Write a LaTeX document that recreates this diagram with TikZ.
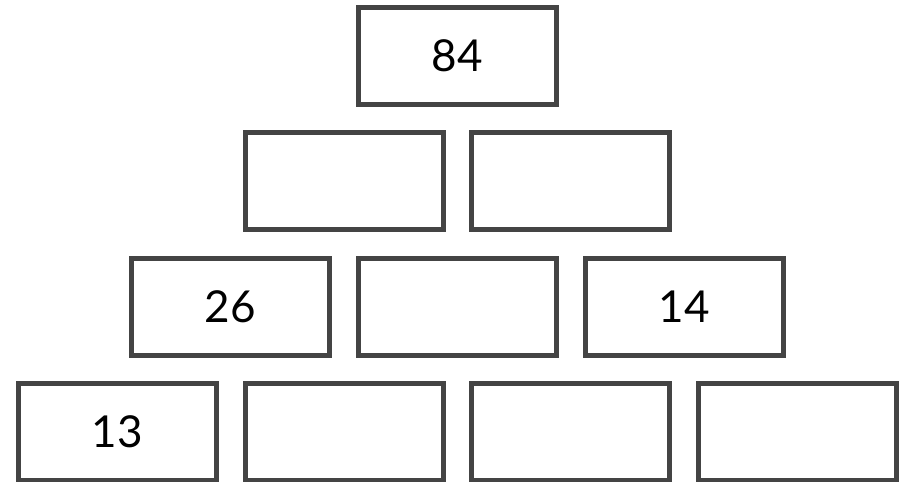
\documentclass[tikz,border=0pt]{standalone}
\usepackage{fontspec}
\setmainfont{Lato}
\definecolor{boxgray}{HTML}{444444}
\begin{document}
\begin{tikzpicture}[x=1pt,y=-1pt,
  brick/.style={draw=boxgray,line width=5pt,minimum width=198pt,minimum height=97pt,inner sep=0pt,fill=white,
    font=\fontsize{44}{52}\selectfont}]
\useasboundingbox (0,0) rectangle (908,482);
\node[brick] (a1) at (457.5,56) {84};
\node[brick] (b1) at (344,181) {};
\node[brick] (b2) at (570.5,181) {};
\node[brick] (c1) at (230.5,306.5) {26};
\node[brick] (c2) at (457,306.5) {};
\node[brick] (c3) at (684,306.5) {14};
\node[brick] (d1) at (117.5,432) {13};
\node[brick] (d2) at (344,432) {};
\node[brick] (d3) at (570.5,432) {};
\node[brick] (d4) at (797.5,432) {};
\end{tikzpicture}
\end{document}
